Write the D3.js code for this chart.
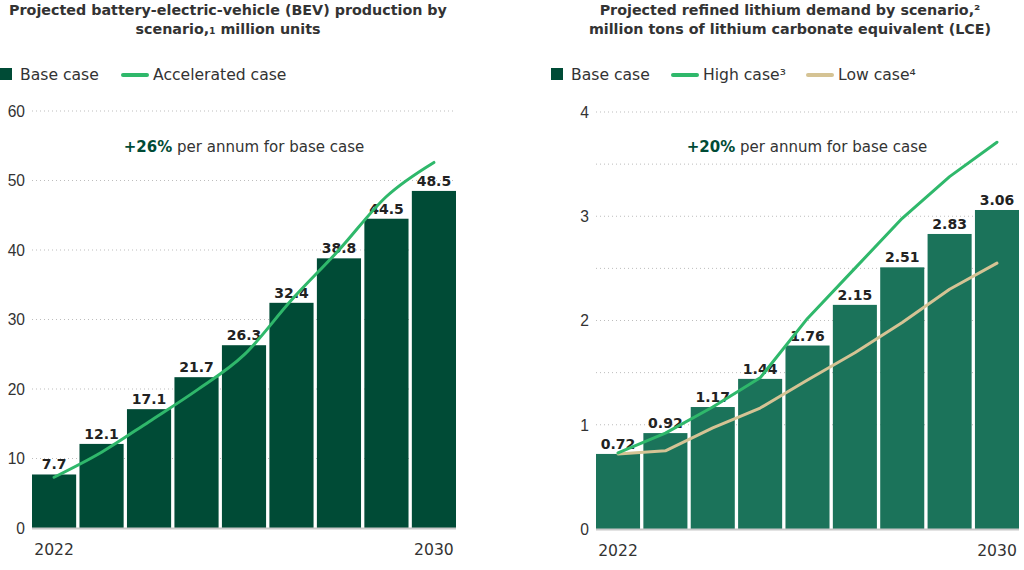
<!DOCTYPE html>
<html>
  <head>
    <meta charset="utf-8">
    <title>BEV production and lithium demand</title>
    <script src="https://cdn.jsdelivr.net/npm/d3@7"></script>
    <style>
      body { margin: 0; background: #fff; }
      svg { font-family: "DejaVu Sans", sans-serif; }
      .title { font-size: 14.3px; font-weight: 700; fill: #333; }
      .legend { font-size: 15.6px; fill: #333; }
      .tick text { font-size: 15.6px; fill: #333; }
      .valueLabel { font-size: 14px; font-weight: 700; fill: #222; }
      .note { font-size: 15px; fill: #333; }
      .note .bold { font-weight: 700; fill: #004b36; }
    </style>
  </head>

  <body>
    <svg id="chart" width="1024" height="570"></svg>

    <script>
      // data
      years = ["2022", "2023", "2024", "2025", "2026", "2027", "2028", "2029", "2030"];
      yearLabels = ["2022", "2030"];

      bevBase = [7.7, 12.1, 17.1, 21.7, 26.3, 32.4, 38.8, 44.5, 48.5];
      bevAccelerated = [7.3, 10.9, 15.3, 19.8, 24.9, 32.8, 40.0, 47.7, 52.6];
      bevTicks = [0, 10, 20, 30, 40, 50, 60];
      bevGrid = [10, 20, 30, 40, 50, 60];

      lithiumBase = [0.72, 0.92, 1.17, 1.44, 1.76, 2.15, 2.51, 2.83, 3.06];
      lithiumHigh = [0.73, 0.92, 1.17, 1.45, 2.02, 2.50, 2.98, 3.38, 3.71];
      lithiumLow = [0.72, 0.75, 0.97, 1.16, 1.43, 1.69, 1.98, 2.30, 2.55];
      lithiumTicks = [0, 1, 2, 3, 4];
      lithiumGrid = [1, 1.5, 2, 2.5, 3, 3.5, 4];

      chart = d3.select("#chart");

      panels = [
        {
          x0: 32, x1: 456, y0: 528, y1: 111, max: 60,
          titleX: 228,
          title: ["Projected battery-electric-vehicle (BEV) production by", "scenario,\u2081 million units"],
          base: bevBase, baseColor: "#004b36",
          lines: [{ values: bevAccelerated, color: "#2fb86b", curve: d3.curveMonotoneX }],
          ticks: bevTicks, grid: bevGrid, fmt: d3.format(".1f"),
          note: ["+26%", " per annum for base case"], noteX: 244,
          legend: [
            { type: "rect", x: 0, label: "Base case", color: "#004b36" },
            { type: "line", x: 123, label: "Accelerated case", color: "#2fb86b" }
          ]
        },
        {
          x0: 596, x1: 1019, y0: 529, y1: 112, max: 4,
          titleX: 790,
          title: ["Projected refined lithium demand by scenario,\u00b2", "million tons of lithium carbonate equivalent (LCE)"],
          base: lithiumBase, baseColor: "#1b735a",
          lines: [
            { values: lithiumLow, color: "#d5c394", curve: d3.curveLinear },
            { values: lithiumHigh, color: "#2fb86b", curve: d3.curveLinear }
          ],
          ticks: lithiumTicks, grid: lithiumGrid, fmt: d3.format(".2f"),
          note: ["+20%", " per annum for base case"], noteX: 807,
          legend: [
            { type: "rect", x: 551, label: "Base case", color: "#004b36" },
            { type: "line", x: 673, label: "High case\u00b3", color: "#2fb86b" },
            { type: "line", x: 808, label: "Low case\u2074", color: "#d5c394" }
          ]
        }
      ];

      panels.forEach(function(p) {
        g = chart.append("g");

        x = d3.scaleBand()
          .domain(years)
          .range([p.x0, p.x1])
          .paddingInner(0.07)
          .paddingOuter(0);
        y = d3.scaleLinear()
          .domain([0, p.max])
          .range([p.y0, p.y1]);

        // title
        g.append("text")
          .attr("class", "title")
          .attr("text-anchor", "middle")
          .selectAll("tspan")
          .data(p.title)
          .join("tspan")
            .attr("x", p.titleX)
            .attr("y", function(d, i) { return 15 + i * 19; })
            .text(function(d) { return d; });

        // legend
        legend = g.selectAll(".legendItem")
          .data(p.legend)
          .join("g")
            .attr("transform", function(d) { return "translate(" + d.x + ", 75)"; });
        legend.filter(function(d) { return d.type == "rect"; })
          .append("rect")
            .attr("y", -7)
            .attr("width", 12)
            .attr("height", 12)
            .attr("fill", function(d) { return d.color; });
        legend.filter(function(d) { return d.type == "line"; })
          .append("line")
            .attr("x2", 24)
            .attr("stroke", function(d) { return d.color; })
            .attr("stroke-width", 4)
            .attr("stroke-linecap", "round");
        legend.append("text")
          .attr("class", "legend")
          .attr("x", function(d) { return d.type == "rect" ? 20 : 30; })
          .attr("y", 5)
          .text(function(d) { return d.label; });

        // gridlines
        g.selectAll(".grid")
          .data(p.grid)
          .join("line")
            .attr("x1", p.x0)
            .attr("x2", p.x1)
            .attr("y1", function(d) { return y(d); })
            .attr("y2", function(d) { return y(d); })
            .attr("stroke", "#bdbdbd")
            .attr("stroke-width", 1)
            .attr("stroke-dasharray", "1,3");

        // y axis
        yAxis = g.append("g")
          .attr("transform", "translate(" + (p.x0 - 7) + ", 0)")
          .call(d3.axisLeft(y)
            .tickValues(p.ticks)
            .tickSize(0)
            .tickPadding(0)
            .tickFormat(d3.format("d")));
        yAxis.select(".domain").remove();
        yAxis.selectAll("text").attr("dy", "0.35em");

        // note
        note = g.append("text")
          .attr("class", "note")
          .attr("x", p.noteX)
          .attr("y", 152)
          .attr("text-anchor", "middle");
        note.append("tspan").attr("class", "bold").text(p.note[0]);
        note.append("tspan").text(p.note[1]);

        // bars
        g.selectAll(".bar")
          .data(p.base)
          .join("rect")
            .attr("x", function(d, i) { return x(years[i]); })
            .attr("y", function(d) { return y(d); })
            .attr("width", x.bandwidth())
            .attr("height", function(d) { return y(0) - y(d); })
            .attr("fill", p.baseColor);

        // baseline
        g.append("line")
          .attr("x1", p.x0)
          .attr("x2", p.x1)
          .attr("y1", y(0) + 0.5)
          .attr("y2", y(0) + 0.5)
          .attr("stroke", "#c8c8c8")
          .attr("stroke-width", 2);

        // value labels
        g.selectAll(".valueLabel")
          .data(p.base)
          .join("text")
            .attr("class", "valueLabel")
            .attr("text-anchor", "middle")
            .attr("x", function(d, i) { return x(years[i]) + x.bandwidth() / 2; })
            .attr("y", function(d) { return y(d) - 5; })
            .text(function(d) { return p.fmt(d); });

        // scenario lines
        p.lines.forEach(function(l) {
          line = d3.line()
            .x(function(d, i) { return x(years[i]) + x.bandwidth() / 2; })
            .y(function(d) { return y(d); })
            .curve(l.curve);
          g.append("path")
            .attr("d", line(l.values))
            .attr("fill", "none")
            .attr("stroke", l.color)
            .attr("stroke-width", 3)
            .attr("stroke-linecap", "round")
            .attr("stroke-linejoin", "round");
        });

        // x labels
        g.selectAll(".xLabel")
          .data(yearLabels)
          .join("text")
            .attr("class", "legend")
            .attr("text-anchor", "middle")
            .attr("x", function(d) { return x(d) + x.bandwidth() / 2; })
            .attr("y", p.y0 + 27)
            .text(function(d) { return d; });
      });
    </script>
  </body>
</html>
